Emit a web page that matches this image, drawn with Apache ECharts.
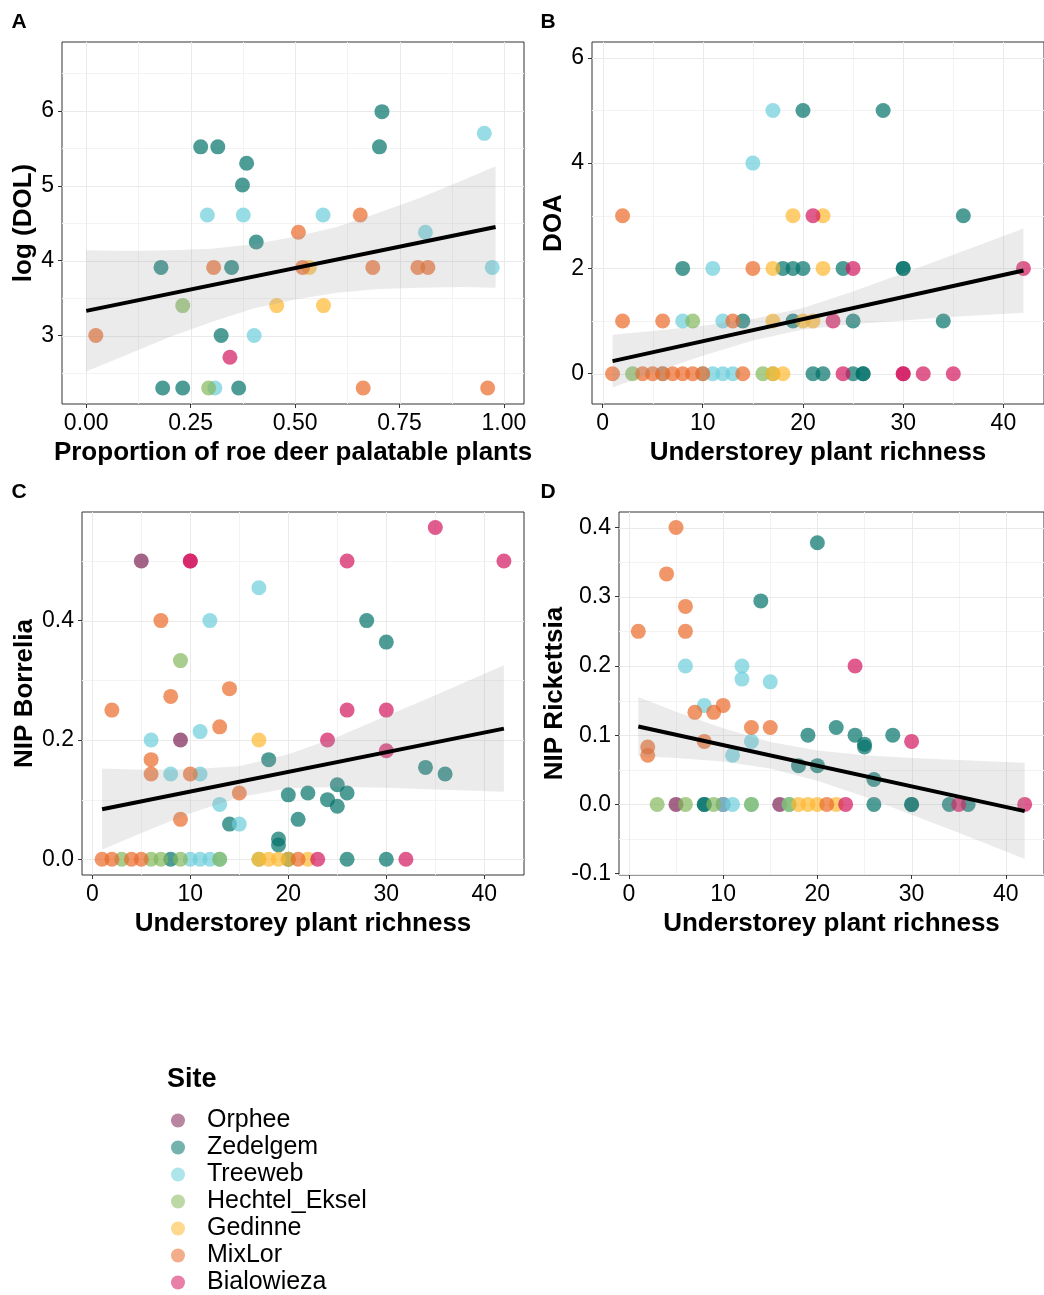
<!DOCTYPE html>
<html><head><meta charset="utf-8">
<script src="https://cdn.jsdelivr.net/npm/echarts@6/dist/echarts.min.js"></script>
<style>html,body{margin:0;padding:0;background:#fff}#c{width:1044px;height:1295px}</style>
</head><body><div id="c"></div>
<script>
// ---- categories ----
const sites = ['Orphee','Zedelgem','Treeweb','Hechtel_Eksel','Gedinne','MixLor','Bialowieza'];
const siteCodes = ['O','Z','T','H','G','M','B'];
const siteColors = ['#7D2254','#02726A','#6CCFDB','#83B85B','#FCB830','#EA6A2A','#D3165E'];

// ---- Panel A: log(DOL) vs proportion of palatable plants ----
const aX = [0.274,0.315,0.384,0.374,0.708,0.702,0.407,0.179,0.348,0.323,0.183,0.231,0.365,
            0.290,0.376,0.567,0.953,0.812,0.972,0.402,0.308,
            0.656,0.508,0.305,0.518,0.686,0.794,0.818,0.023,0.663,0.961,
            0.534,0.456,0.568,
            0.231,0.293,
            0.344];
const aY = [5.52,5.52,5.30,5.01,5.99,5.52,4.25,3.91,3.91,3.00,2.30,2.30,2.30,
            4.61,4.61,4.61,5.70,4.38,3.91,3.00,2.30,
            4.61,4.38,3.91,3.91,3.91,3.91,3.91,3.00,2.30,2.30,
            3.91,3.40,3.40,
            3.40,2.30,
            2.71];
const aSite = ['Z','Z','Z','Z','Z','Z','Z','Z','Z','Z','Z','Z','Z',
               'T','T','T','T','T','T','T','T',
               'M','M','M','M','M','M','M','M','M','M',
               'G','G','G',
               'H','H',
               'B'];
const aFitX = [0, 0.98];
const aFitY = [3.33, 4.45];
const aBandX  = [0, 0.1, 0.2, 0.3, 0.4, 0.5, 0.6, 0.7, 0.8, 0.9, 0.98];
const aBandLo = [2.52, 2.75, 2.98, 3.18, 3.36, 3.48, 3.57, 3.62, 3.64, 3.65, 3.64];
const aBandHi = [4.14, 4.13, 4.14, 4.16, 4.22, 4.32, 4.45, 4.64, 4.84, 5.07, 5.26];
const aXTicks = [0, 0.25, 0.5, 0.75, 1.0];
const aXMinor = [0.125, 0.375, 0.625, 0.875];
const aYTicks = [3, 4, 5, 6];
const aYMinor = [2.5, 3.5, 4.5, 5.5, 6.5];

// ---- Panel B: DOA vs understorey richness ----
const bX = [17,20,28,
            15,
            2,19,21,22,36,
            8,11,15,17,18,19,20,22,24,25,30,30,42,
            2,6,8,9,12,13,14,17,19,20,21,23,25,34,
            1,3,4,5,6,6,7,8,9,10,10,11,12,13,14,16,17,17,18,21,22,24,25,26,26,30,30,32,35];
const bY = [5,5,5,
            4,
            3,3,3,3,3,
            2,2,2,2,2,2,2,2,2,2,2,2,2,
            1,1,1,1,1,1,1,1,1,1,1,1,1,1,
            0,0,0,0,0,0,0,0,0,0,0,0,0,0,0,0,0,0,0,0,0,0,0,0,0,0,0,0,0];
const bSite = ['T','Z','Z',
               'T',
               'M','G','B','G','Z',
               'Z','T','M','G','Z','Z','Z','G','Z','B','Z','Z','B',
               'M','M','T','H','T','M','Z','G','Z','G','G','B','Z','Z',
               'M','H','M','M','M','T','M','M','M','M','T','T','T','T','M','H','H','G','G','Z','Z','B','Z','Z','Z','B','B','B','B'];
const bFitX = [1, 42];
const bFitY = [0.24, 1.96];
const bBandX  = [1, 5, 10, 15, 20, 25, 30, 35, 42];
const bBandLo = [-0.26, 0.02, 0.34, 0.63, 0.84, 0.94, 1.01, 1.08, 1.16];
const bBandHi = [0.74, 0.81, 0.91, 1.04, 1.25, 1.56, 1.91, 2.26, 2.76];
const richTicks = [0, 10, 20, 30, 40];
const richMinor = [5, 15, 25, 35];
const bYTicks = [0, 2, 4, 6];
const bYMinor = [1, 3, 5];

// ---- Panel C: NIP Borrelia vs understorey richness ----
const cX = [35,10,10,26,42,26,30,24,30,23,32,
            5,9,
            17,12,11,6,8,11,13,15,10,11,12,13,
            7,14,8,2,13,6,6,10,15,9,1,2,4,5,21,
            28,30,18,34,36,20,22,25,26,24,25,21,14,19,19,8,20,26,30,
            9,3,6,7,9,13,17,
            17,18,19,20,22,17];
const cY = [0.556,0.5,0.5,0.5,0.5,0.25,0.25,0.2,0.182,0,0,
            0.5,0.2,
            0.455,0.4,0.214,0.2,0.143,0.143,0.092,0.059,0,0,0,0,
            0.4,0.286,0.273,0.25,0.222,0.167,0.143,0.143,0.111,0.067,0,0,0,0,0,
            0.4,0.364,0.167,0.154,0.143,0.108,0.111,0.125,0.111,0.1,0.089,0.067,0.059,0.034,0.024,0,0,0,0,
            0.333,0,0,0,0,0,0,
            0.2,0,0,0,0,0];
const cSite = ['B','B','B','B','B','B','B','B','B','B','B',
               'O','O',
               'T','T','T','T','T','T','T','T','T','T','T','T',
               'M','M','M','M','M','M','M','M','M','M','M','M','M','M','M',
               'Z','Z','Z','Z','Z','Z','Z','Z','Z','Z','Z','Z','Z','Z','Z','Z','Z','Z','Z',
               'H','H','H','H','H','H','H',
               'G','G','G','G','G','G'];
const cFitX = [1, 42];
const cFitY = [0.084, 0.219];
const cBandX  = [1, 5, 10, 15, 20, 25, 30, 35, 42];
const cBandLo = [0.016, 0.044, 0.077, 0.104, 0.119, 0.121, 0.120, 0.117, 0.113];
const cBandHi = [0.152, 0.150, 0.151, 0.156, 0.176, 0.205, 0.240, 0.275, 0.325];
const cYTicks = [0, 0.2, 0.4];
const cYMinor = [0.1, 0.3, 0.5];

// ---- Panel D: NIP Rickettsia vs understorey richness ----
const dX = [5,4,6,1,6,10,7,9,13,15,8,2,2,21,
            20,14,22,19,24,28,25,25,18,20,26,8,8,26,30,30,34,36,
            6,12,12,15,8,13,11,10,11,13,17,
            24,30,23,35,42,
            3,6,9,13,17,
            5,10,16,
            18,19,20,22];
const dY = [0.4,0.333,0.286,0.25,0.25,0.143,0.133,0.133,0.111,0.111,0.091,0.083,0.071,0,
            0.378,0.294,0.111,0.1,0.1,0.1,0.087,0.083,0.056,0.056,0.036,0,0,0,0,0,0,0,
            0.2,0.2,0.181,0.177,0.143,0.091,0.071,0,0,0,0,
            0.2,0.091,0,0,0,
            0,0,0,0,0,
            0,0,0,
            0,0,0,0];
const dSite = ['M','M','M','M','M','M','M','M','M','M','M','M','M','M',
               'Z','Z','Z','Z','Z','Z','Z','Z','Z','Z','Z','Z','Z','Z','Z','Z','Z','Z',
               'T','T','T','T','T','T','T','T','T','T','T',
               'B','B','B','B','B',
               'H','H','H','H','H',
               'O','O','O',
               'G','G','G','G'];
const dFitX = [1, 42];
const dFitY = [0.1125, -0.0097];
const dBandX  = [1, 5, 10, 15, 20, 25, 30, 35, 42];
const dBandLo = [0.070, 0.067, 0.062, 0.052, 0.034, 0.011, -0.015, -0.041, -0.079];
const dBandHi = [0.155, 0.134, 0.110, 0.090, 0.078, 0.071, 0.067, 0.064, 0.060];
const dYTicks = [-0.1, 0, 0.1, 0.2, 0.3, 0.4];
const dYMinor = [-0.05, 0.05, 0.15, 0.25, 0.35];

// ---- layout / style ----
const FONT = 'Liberation Sans, Arial, Helvetica, sans-serif';
const panels = [
  {x:aX, y:aY, s:aSite, fx:aFitX, fy:aFitY, bx:aBandX, blo:aBandLo, bhi:aBandHi,
   xt:aXTicks, xm:aXMinor, yt:aYTicks, ym:aYMinor, xr:[-0.058,1.048], yr:[2.086,6.92],
   grid:{left:62, top:42, width:462, height:362}, xname:'Proportion of roe deer palatable plants',
   yname:'log (DOL)', ygap:23, xfmt:v=>v.toFixed(2), yfmt:v=>String(v)},
  {x:bX, y:bY, s:bSite, fx:bFitX, fy:bFitY, bx:bBandX, blo:bBandLo, bhi:bBandHi,
   xt:richTicks, xm:richMinor, yt:bYTicks, ym:bYMinor, xr:[-1.05,44.05], yr:[-0.575,6.30],
   grid:{left:592, top:42, width:461, height:362}, xname:'Understorey plant richness',
   yname:'DOA', ygap:25, xfmt:v=>String(v), yfmt:v=>String(v)},
  {x:cX, y:cY, s:cSite, fx:cFitX, fy:cFitY, bx:cBandX, blo:cBandLo, bhi:cBandHi,
   xt:richTicks, xm:richMinor, yt:cYTicks, ym:cYMinor, xr:[-1.05,44.05], yr:[-0.0263,0.582],
   grid:{left:82, top:512, width:442, height:363}, xname:'Understorey plant richness',
   yname:'NIP Borrelia', ygap:42, xfmt:v=>String(v), yfmt:v=>v.toFixed(1)},
  {x:dX, y:dY, s:dSite, fx:dFitX, fy:dFitY, bx:dBandX, blo:dBandLo, bhi:dBandHi,
   xt:richTicks, xm:richMinor, yt:dYTicks, ym:dYMinor, xr:[-1.05,44.05], yr:[-0.102,0.4224],
   grid:{left:619, top:512, width:434, height:363}, xname:'Understorey plant richness',
   yname:'NIP Rickettsia', ygap:51, xfmt:v=>String(v), yfmt:v=>v.toFixed(1)}
];

const grids = [], xAxes = [], yAxes = [], series = [];
const labelStyle = {fontSize:23, color:'#000', fontFamily:FONT, margin:8};
const nameStyle = {fontSize:26, fontWeight:'bold', color:'#000', fontFamily:FONT};
const tickStyle = {show:true, length:4, lineStyle:{color:'#333', width:1}};

function crisp(v){ return Math.round(v) + 0.5; }

panels.forEach((P, p) => {
  grids.push(Object.assign({show:true, borderColor:'#333', borderWidth:1, backgroundColor:'transparent', containLabel:false}, P.grid));
  xAxes.push({gridIndex:p, type:'value', min:P.xr[0], max:P.xr[1],
    axisLine:{show:false, onZero:false}, splitLine:{show:false},
    axisTick:Object.assign({customValues:P.xt}, tickStyle),
    axisLabel:Object.assign({customValues:P.xt, formatter:P.xfmt}, labelStyle),
    name:P.xname, nameLocation:'middle', nameGap:36, nameTextStyle:nameStyle});
  yAxes.push({gridIndex:p, type:'value', min:P.yr[0], max:P.yr[1],
    axisLine:{show:false, onZero:false}, splitLine:{show:false},
    axisTick:Object.assign({customValues:P.yt}, tickStyle),
    axisLabel:Object.assign({customValues:P.yt, formatter:P.yfmt}, labelStyle),
    name:P.yname, nameLocation:'middle', nameGap:P.ygap, nameTextStyle:nameStyle});

  // grid lines (major + minor) drawn through the axis scales
  series.push({type:'custom', xAxisIndex:p, yAxisIndex:p, z:0, silent:true,
    data:[[P.xr[0], P.yr[0]]],
    renderItem(params, api){
      const ch = [];
      const add = (vals, vert, color) => vals.forEach(v => {
        let a, b;
        if (vert) { a = api.coord([v, P.yr[0]]); b = api.coord([v, P.yr[1]]);
          ch.push({type:'line', shape:{x1:crisp(a[0]), y1:a[1], x2:crisp(a[0]), y2:b[1]}, style:{stroke:color, lineWidth:1}});
        } else { a = api.coord([P.xr[0], v]); b = api.coord([P.xr[1], v]);
          ch.push({type:'line', shape:{x1:a[0], y1:crisp(a[1]), x2:b[0], y2:crisp(a[1])}, style:{stroke:color, lineWidth:1}});
        }
      });
      add(P.xm, true, '#F3F3F3'); add(P.ym, false, '#F3F3F3');
      add(P.xt, true, '#EAEAEA'); add(P.yt, false, '#EAEAEA');
      return {type:'group', children:ch};
    }});

  // points per site
  siteCodes.forEach((code, k) => {
    const pts = [];
    P.x.forEach((xv, i) => { if (P.s[i] === code) pts.push([xv, P.y[i]]); });
    series.push({type:'scatter', name:sites[k], xAxisIndex:p, yAxisIndex:p, z:2,
      symbol:'circle', symbolSize:15, data:pts, silent:true,
      itemStyle:{color:siteColors[k], opacity:0.7}});
  });

  // confidence ribbon
  series.push({type:'custom', xAxisIndex:p, yAxisIndex:p, z:3, silent:true,
    data:[[P.bx[0], P.blo[0]]],
    renderItem(params, api){
      const pts = [];
      P.bx.forEach((xv, i) => pts.push(api.coord([xv, P.bhi[i]])));
      for (let i = P.bx.length - 1; i >= 0; i--) pts.push(api.coord([P.bx[i], P.blo[i]]));
      return {type:'polygon', shape:{points:pts}, style:{fill:'rgba(153,153,153,0.2)', stroke:null}};
    }});

  // fitted line
  series.push({type:'line', xAxisIndex:p, yAxisIndex:p, z:4, silent:true,
    data:P.fx.map((xv, i) => [xv, P.fy[i]]), showSymbol:false, symbol:'none',
    lineStyle:{color:'#000', width:4}});
});

const letters = [['A',19,22],['B',548,22],['C',19,492],['D',548,492]];
const graphics = letters.map(([t,x,y]) => ({type:'text', style:{text:t, x:x, y:y,
  font:'bold 21px ' + FONT, fill:'#000', align:'center', verticalAlign:'middle', textAlign:'center', textVerticalAlign:'middle'}}));
graphics.push({type:'text', style:{text:'Site', x:167, y:1080, font:'bold 27px ' + FONT, fill:'#000',
  align:'left', verticalAlign:'middle', textAlign:'left', textVerticalAlign:'middle'}});

const chart = echarts.init(document.getElementById('c'), null, {renderer:'canvas'});
chart.setOption({
  animation:false,
  backgroundColor:'#fff',
  textStyle:{fontFamily:FONT},
  grid:grids, xAxis:xAxes, yAxis:yAxes, series:series,
  legend:{data:sites, orient:'vertical', left:171, top:1108, padding:0, icon:'circle',
    itemWidth:14, itemHeight:14, itemGap:2, selectedMode:false,
    itemStyle:{opacity:0.55},
    textStyle:{fontSize:25, lineHeight:25, color:'#000', fontFamily:FONT, padding:[0,0,0,17]}},
  graphic:graphics
});
</script></body></html>
